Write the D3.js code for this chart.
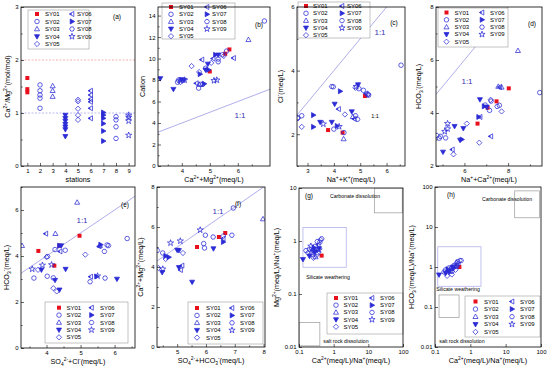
<!DOCTYPE html>
<html>
<head>
<meta charset="utf-8">
<style>
    body { margin: 0; background: #fff; }
    svg { display: block; font-family: 'Liberation Sans', Arial, sans-serif; }
</style>
</head>
<body>
<svg width="550" height="371"></svg>
<script src="https://d3js.org/d3.v7.min.js"></script>
<script>
// ---- data ----
const stations = ["SY01", "SY02", "SY03", "SY04", "SY05", "SY06", "SY07", "SY08", "SY09"];

// (a) Ca/Mg ratio per station, x = station number
const ratioA = [
    [1.66, 1.45, 1.39],
    [1.53, 1.42, 1.34, 1.28, 1.09],
    [1.51, 1.42, 1.31],
    [0.96, 0.9, 0.85, 0.79, 0.74, 0.69, 0.56],
    [1.25, 1.22, 1.08, 0.96, 0.87],
    [1.42, 1.34, 1.26, 1.21, 1.09, 0.9],
    [1.01, 0.96, 0.9, 0.8, 0.66, 0.47],
    [0.93, 0.87, 0.74, 0.52],
    [0.96, 0.92, 0.85, 0.58]
];

// [station, x, y]
const dataB = [
    [1,5.0,8.8],[1,5.55,10.45],[1,5.7,10.85],
    [2,4.6,7.25],[2,4.68,7.6],[2,5.3,9.95],[2,5.45,10.35],[2,6.95,13.5],[2,4.85,9.1],[2,3.85,7.8],
    [3,6.38,11.75],[3,4.62,7.6],
    [4,3.23,8.15],[4,3.7,7.15],[4,3.98,8.05],[4,4.08,8.0],[4,4.85,8.95],[4,4.93,9.5],[4,5.3,10.35],
    [5,4.35,9.3],[5,3.95,7.8],[5,5.5,10.25],[5,5.05,9.6],[5,4.62,8.75],
    [6,5.85,10.05],[6,4.52,7.7],[6,4.72,9.9],[6,5.12,10.0],
    [7,4.65,8.55],[7,4.8,7.65],[7,5.2,10.35],[7,4.95,8.95],
    [8,3.88,8.0],[8,4.75,7.6],[8,5.3,9.7],[8,5.6,10.7],
    [9,4.1,8.0],[9,5.15,7.95],[9,5.25,8.0],[9,3.95,7.95]
];
const dataC = [
    [1,3.78,2.13],[1,4.33,2.05],[1,5.18,3.2],
    [2,6.55,4.17],[2,4.95,3.43],[2,5.12,3.38],[2,2.78,2.58],[2,2.62,2.52],[2,4.0,2.16],[2,4.38,2.05],[2,5.32,3.23],
    [3,4.37,1.85],[3,4.72,2.55],
    [4,4.03,2.95],[4,4.92,3.56],[4,3.48,2.38],[4,3.92,2.38],[4,4.68,2.71],
    [5,4.42,2.62],[5,4.82,3.46],[5,2.78,2.23],[5,2.64,2.5],[5,5.3,3.26],
    [6,4.18,2.79],[6,4.78,2.48],[6,5.22,3.28],
    [7,3.22,2.6],[7,3.22,2.23],[7,4.24,3.35],[7,4.12,2.26],
    [8,3.92,3.5],[8,3.98,3.49],[8,4.82,2.58],[8,4.9,2.47],[8,5.28,3.24],
    [9,3.6,2.32],[9,4.2,2.24],[9,4.85,3.5]
];
const dataD = [
    [1,8.03,4.93],[1,7.47,4.44],[1,7.06,4.2],[1,6.6,3.6],
    [2,9.45,4.77],[2,7.6,4.29],[2,7.15,4.1],[2,6.95,4.3],[2,4.85,3.05],
    [3,8.45,6.35],[3,7.55,5.0],[3,7.7,4.97],
    [4,6.71,4.51],[4,5.55,3.5],[4,5.95,3.42],[4,5.02,2.53],[4,5.8,2.98],[4,7.02,4.23],
    [5,6.68,2.88],[5,6.11,3.6],[5,5.5,2.44],[5,7.7,4.06],[5,4.75,3.15],[5,7.2,4.5],
    [6,7.21,3.12],[6,5.45,2.62],[6,7.62,4.98],[6,6.72,3.85],
    [7,5.88,3.0],[7,6.9,4.25],[7,6.65,3.85],
    [8,4.9,3.12],[8,5.14,3.06],[8,7.22,4.45],[8,7.5,4.25],
    [9,5.23,3.6],[9,5.23,3.4],[9,5.1,3.3]
];
const dataE = [
    [1,4.97,4.88],[1,3.76,4.22],[1,4.23,3.58],[1,4.38,4.45],
    [2,6.37,4.76],[2,3.63,3.04],[2,4.02,3.12],[2,4.2,3.05],[2,5.78,4.48],[2,4.55,4.25],[2,4.25,4.28],
    [3,4.9,6.33],[3,3.28,4.45],[3,4.26,4.97],[3,5.57,4.45],
    [4,4.43,4.45],[4,4.56,3.43],[4,6.07,3.0],[4,4.38,2.53],[4,3.85,3.4],[4,4.25,2.95],
    [5,4.3,2.46],[5,5.14,4.06],[5,4.0,3.95],[5,3.75,3.4],[5,4.2,2.6],
    [6,3.98,4.97],[6,5.55,4.42],[6,4.4,4.2],[6,5.3,3.1],
    [7,5.59,4.49],[7,5.47,3.11],[7,4.38,4.45],
    [8,5.82,4.45],[8,5.7,4.2],[8,4.03,3.98],[8,5.72,3.04],[8,5.28,2.88],
    [9,3.58,3.43],[9,5.5,3.13],[9,3.88,3.6],[9,4.15,3.62]
];
const dataF = [
    [1,5.69,5.0],[1,6.67,5.7],[1,6.45,5.5],
    [2,6.95,6.95],[2,5.98,5.59],[2,5.92,5.17],[2,4.5,4.7],[2,5.95,4.95],
    [3,7.98,6.4],
    [4,5.52,3.25],[4,5.06,3.98],[4,5.06,4.83],[4,6.26,4.92],[4,4.48,3.73],[4,5.0,4.85],
    [5,4.6,4.4],[5,4.35,3.95],[5,5.2,4.7],[5,6.6,5.55],
    [6,5.17,4.07],[6,6.6,5.42],[6,5.12,3.85],
    [7,6.6,5.25],[7,4.71,4.49],[7,4.6,4.55],
    [8,6.9,5.59],[8,4.31,4.83],[8,6.25,5.5],
    [9,5.8,5.85],[9,4.77,5.2],[9,5.11,5.3],[9,4.5,3.9]
];
const dataG = [
    [1,0.45,0.53],
    [2,0.2,0.7],[2,0.25,0.55],[2,0.3,0.8],[2,0.35,0.6],[2,0.4,0.95],
    [3,0.22,0.6],[3,0.3,0.5],
    [4,0.13,0.45],[4,0.2,0.52],[4,0.28,0.62],[4,0.38,0.72],
    [5,0.18,0.6],[5,0.26,0.48],[5,0.33,0.55],[5,0.42,1.05],
    [6,0.24,0.68],[6,0.36,0.85],
    [7,0.3,0.65],[7,0.27,0.75],
    [8,0.16,0.66],[8,0.34,0.98],[8,0.45,1.1],
    [9,0.22,0.8],[9,0.38,0.68]
];
const dataH = [
    [1,0.49,1.0],
    [2,0.2,0.85],[2,0.25,0.95],[2,0.3,0.78],[2,0.35,1.1],[2,0.45,1.2],
    [3,0.28,0.9],[3,0.4,1.3],
    [4,0.13,0.64],[4,0.2,0.7],[4,0.25,0.75],[4,0.32,1.0],
    [5,0.22,0.6],[5,0.3,0.65],[5,0.38,0.85],[5,0.5,1.45],
    [6,0.27,0.8],[6,0.42,1.1],
    [7,0.23,0.88],[7,0.35,0.95],
    [8,0.18,0.75],[8,0.44,1.35],[8,0.55,1.45],
    [9,0.3,0.95],[9,0.4,1.05]
];
// region boxes [x0, x1, y0, y1]
const boxesG = [[15, 95, 3.4, 10], [0.13, 2.3, 0.32, 1.8], [0.1, 0.4, 0.0105, 0.029]];
const boxesH = [[18, 90, 17, 80], [0.12, 2.0, 0.33, 3.2], [0.13, 0.48, 0.055, 0.2]];
const boxNames = ["Carbonate dissolution", "Silicate weathering", "salt rock dissolution"];

// ---- drawing ----
const BLUE = "#2b2bd6", RED = "#e8101c", LINE = "#9a9ae6";
const FONT = 6;
let svg = d3.select("svg");
svg.append("rect").attr("width", 550).attr("height", 371).attr("fill", "#fff");

function marker(g, k, x, y) {
    let s = 2.4;
    if (k == 1) {
        g.append("rect").attr("x", x - 2).attr("y", y - 2).attr("width", 4).attr("height", 4).attr("fill", RED);
        return;
    }
    let p, fill = "none";
    if (k == 2) p = d3.symbol(d3.symbolCircle, 16)();
    if (k == 3) p = `M0,${-s*1.1}L${s*1.05},${s*0.75}L${-s*1.05},${s*0.75}Z`;
    if (k == 4) { p = `M0,${s*1.1}L${s*1.05},${-s*0.75}L${-s*1.05},${-s*0.75}Z`; fill = BLUE; }
    if (k == 5) p = `M0,${-s*1.1}L${s*1.1},0L0,${s*1.1}L${-s*1.1},0Z`;
    if (k == 6) p = `M${-s*1.1},0L${s*0.75},${-s*1.05}L${s*0.75},${s*1.05}Z`;
    if (k == 7) { p = `M${s*1.1},0L${-s*0.75},${-s*1.05}L${-s*0.75},${s*1.05}Z`; fill = BLUE; }
    if (k == 8) p = d3.range(6).map(i => (i ? "L" : "M") + (s * Math.cos(i * Math.PI / 3)).toFixed(2) + "," + (s * Math.sin(i * Math.PI / 3)).toFixed(2)).join("") + "Z";
    if (k == 9) p = d3.symbol(d3.symbolStar, 12)();
    let m = g.append("g").attr("transform", `translate(${x},${y})`);
    if (k == 6) {
        // half filled left triangle
        m.append("path").attr("d", `M${-s*1.1},0L${-s*0.17},${-s*0.52}L${-s*0.17},${s*0.52}Z`).attr("fill", BLUE);
    }
    m.append("path").attr("d", p).attr("fill", fill).attr("stroke", BLUE).attr("stroke-width", 0.75);
}

function rich(sel, s, fs) {
    let parts = s.split(/(\^\{[^}]*\}|_\{[^}]*\})/);
    let cur = 0;
    parts.forEach(p => {
        if (!p) return;
        let t = p, off = 0, size = fs;
        if (p.startsWith("^{")) { t = p.slice(2, -1); off = -0.38 * fs; size = fs * 0.68; }
        else if (p.startsWith("_{")) { t = p.slice(2, -1); off = 0.22 * fs; size = fs * 0.68; }
        sel.append("tspan").attr("dy", off - cur).attr("font-size", size).text(t);
        cur = off;
    });
}

function panel(c) {
    let g = svg.append("g");
    let x = (c.xlog ? d3.scaleLog() : d3.scaleLinear()).domain(c.xd).range([c.l, c.r]);
    let y = (c.ylog ? d3.scaleLog() : d3.scaleLinear()).domain(c.yd).range([c.b, c.t]);
    let id = "clip" + c.tag;
    svg.append("clipPath").attr("id", id).append("rect")
        .attr("x", c.l).attr("y", c.t).attr("width", c.r - c.l).attr("height", c.b - c.t);
    let inner = g.append("g").attr("clip-path", `url(#${id})`);
    let fmt = d => d3.format("~g")(d);

    let ax = g.append("g").attr("transform", `translate(0,${c.b})`)
        .call(d3.axisBottom(x).tickValues(c.xt).tickSize(-3).tickPadding(2.5).tickFormat(fmt));
    let ay = g.append("g").attr("transform", `translate(${c.l},0)`)
        .call(d3.axisLeft(y).tickValues(c.yt).tickSize(-3).tickPadding(2.5).tickFormat(fmt));
    if (c.xm) g.append("g").attr("transform", `translate(0,${c.b})`)
        .call(d3.axisBottom(x).tickValues(c.xm).tickSize(-1.6).tickFormat(""));
    if (c.ym) g.append("g").attr("transform", `translate(${c.l},0)`)
        .call(d3.axisLeft(y).tickValues(c.ym).tickSize(-1.6).tickFormat(""));
    g.selectAll(".domain").remove();
    g.selectAll(".tick line").attr("stroke", "#000").attr("stroke-width", 0.6);
    g.selectAll(".tick text").attr("font-size", FONT).attr("font-family", "'Liberation Sans', Arial, sans-serif").attr("fill", "#000");

    // x label
    let tx = g.append("text").attr("x", (c.l + c.r) / 2).attr("y", c.b + 16).attr("text-anchor", "middle").attr("font-size", 7.2);
    rich(tx, c.xl, 7.2);
    let ty = g.append("text").attr("text-anchor", "middle").attr("font-size", 7.2)
        .attr("transform", `translate(${c.yx},${(c.t + c.b) / 2}) rotate(-90)`);
    rich(ty, c.yl, 7.2);

    return { g, inner, x, y };
}

function points(p, data) {
    data.forEach(d => marker(p.inner, d[0], p.x(d[1]), p.y(d[2])));
}

function oneToOne(p, lab) {
    let [a, b] = p.x.domain();
    p.inner.append("line").attr("x1", p.x(a)).attr("y1", p.y(a)).attr("x2", p.x(b)).attr("y2", p.y(b))
        .attr("stroke", LINE).attr("stroke-width", 0.8);
    if (lab) p.g.append("text").attr("x", lab[0]).attr("y", lab[1]).attr("font-size", 8)
        .attr("fill", "#3535b0").attr("text-anchor", "middle").text("1:1");
}

function legend(p, L) {
    let g = p.g.append("g");
    g.append("rect").attr("x", L.x).attr("y", L.y).attr("width", L.w).attr("height", L.h)
        .attr("fill", "#fff").attr("stroke", "#888").attr("stroke-width", 0.5);
    stations.forEach((s, i) => {
        let col = i < 5 ? 0 : 1, row = i < 5 ? i : i - 5;
        let yy = L.y + L.r0 + row * L.dr;
        marker(g, i + 1, L.x + (col ? L.m2 : L.m1), yy);
        g.append("text").attr("x", L.x + (col ? L.t2 : L.t1)).attr("y", yy + 2).attr("font-size", FONT).text(s);
    });
}

function frame(p, c, tag, tp) {
    p.g.append("rect").attr("x", c.l).attr("y", c.t).attr("width", c.r - c.l).attr("height", c.b - c.t)
        .attr("fill", "none").attr("stroke", "#000").attr("stroke-width", 0.8);
    p.g.append("text").attr("x", tp[0]).attr("y", tp[1]).attr("font-size", 6.5).attr("text-anchor", "middle").text(tag);
}

function regionBoxes(p, boxes, labs) {
    boxes.forEach((b, i) => {
        p.inner.append("rect").attr("x", p.x(b[0])).attr("y", p.y(b[3]))
            .attr("width", p.x(b[1]) - p.x(b[0])).attr("height", p.y(b[2]) - p.y(b[3]))
            .attr("fill", "none").attr("stroke", i == 1 ? "#a8a8e8" : "#999").attr("stroke-width", 0.7);
        p.g.append("text").attr("x", labs[i][0]).attr("y", labs[i][1]).attr("font-size", 5.2)
            .attr("text-anchor", "middle").text(boxNames[i]);
    });
}

// (a)
let cA = { tag: "a", l: 21, r: 135, t: 7, b: 166, xd: [0.5, 9.5], yd: [0, 3],
    xt: d3.range(1, 10), yt: [0, 1, 2, 3], ym: [0.5, 1.5, 2.5],
    xl: "stations", yl: "Ca^{2+}/Mg^{2+}(mol/mol)", yx: 10 };
let pA = panel(cA);
[[2, "#f2a0a0"], [1, "#a8a8f0"]].forEach(([v, col]) => {
    pA.inner.append("line").attr("x1", cA.l).attr("x2", cA.r).attr("y1", pA.y(v)).attr("y2", pA.y(v))
        .attr("stroke", col).attr("stroke-width", 0.8).attr("stroke-dasharray", "2,1.5");
});
ratioA.forEach((vals, i) => vals.forEach(v => marker(pA.inner, i + 1, pA.x(i + 1), pA.y(v))));
legend(pA, { x: 28, y: 10, w: 61, h: 39, m1: 9, t1: 17, m2: 44, t2: 49, r0: 4, dr: 7.5 });
frame(pA, cA, "(a)", [117, 19]);

// (b)
let cB = { tag: "b", l: 158, r: 270, t: 7, b: 166, xd: [3.15, 7.15], yd: [0, 14.8],
    xt: [4, 5, 6], yt: d3.range(0, 15, 2), xm: [3.5, 4.5, 5.5, 6.5], ym: d3.range(1, 15, 2),
    xl: "Ca^{2+}+Mg^{2+}(meq/L)", yl: "Cation", yx: 145 };
let pB = panel(cB);
oneToOne(pB, [240, 118]);
points(pB, dataB);
legend(pB, { x: 162, y: 3, w: 73, h: 36, m1: 9, t1: 17, m2: 45, t2: 50, r0: 4, dr: 7.3 });
frame(pB, cB, "(b)", [259, 27]);

// (c)
let cC = { tag: "c", l: 297, r: 405, t: 7, b: 166, xd: [2.6, 6.7], yd: [1, 6],
    xt: [3, 4, 5, 6], yt: [2, 4, 6], xm: [3.5, 4.5, 5.5, 6.5], ym: [1, 3, 5],
    xl: "Na^{+}+K^{+}(meq/L)", yl: "Cl^{-}(meq/L)", yx: 283 };
let pC = panel(cC);
oneToOne(pC, [380, 35]);
pC.g.append("text").attr("x", 375).attr("y", 118).attr("font-size", 5.5).attr("text-anchor", "middle").text("1:1");
points(pC, dataC);
legend(pC, { x: 298, y: 2, w: 72, h: 36, m1: 8, t1: 15, m2: 44, t2: 49, r0: 4, dr: 7.3 });
frame(pC, cC, "(c)", [394, 25]);

// (d)
let cD = { tag: "d", l: 436, r: 542, t: 7, b: 166, xd: [4.7, 9.55], yd: [2, 8],
    xt: [6, 8], yt: [2, 4, 6, 8], xm: [5, 7, 9], ym: [3, 5, 7],
    xl: "Na^{+}+Ca^{2+}(meq/L)", yl: "HCO_{3}^{-}(meq/L)", yx: 421 };
let pD = panel(cD);
oneToOne(pD, [467, 84]);
points(pD, dataD);
legend(pD, { x: 438, y: 8, w: 70, h: 39, m1: 8.5, t1: 16.5, m2: 44, t2: 52, r0: 4.5, dr: 7.3 });
frame(pD, cD, "(d)", [532, 26]);

// (e)
let cE = { tag: "e", l: 21, r: 135, t: 187, b: 348, xd: [3.25, 6.6], yd: [0, 7],
    xt: [4, 5, 6], yt: [0, 2, 4, 6], xm: [3.5, 4.5, 5.5, 6.5], ym: [1, 3, 5, 7],
    xl: "SO_{4}^{2-}+Cl^{-}(meq/L)", yl: "HCO_{3}^{-}(meq/L)", yx: 9 };
let pE = panel(cE);
oneToOne(pE, [82, 223]);
points(pE, dataE);
legend(pE, { x: 45, y: 302, w: 83, h: 41, m1: 14, t1: 21.5, m2: 46.5, t2: 55, r0: 5.7, dr: 7.4 });
frame(pE, cE, "(e)", [125, 207]);

// (f)
let cF = { tag: "f", l: 157, r: 265, t: 187, b: 347, xd: [4.3, 8.05], yd: [0, 8],
    xt: [5, 6, 7, 8], yt: [0, 2, 4, 6, 8], xm: [4.5, 5.5, 6.5, 7.5], ym: [1, 3, 5, 7],
    xl: "SO_{4}^{2-}+HCO_{3}^{-}(meq/L)", yl: "Ca^{2+}+Mg^{2+}(meq/L)", yx: 143 };
let pF = panel(cF);
oneToOne(pF, [218, 214]);
points(pF, dataF);
legend(pF, { x: 188, y: 302, w: 75, h: 42, m1: 9, t1: 18, m2: 44, t2: 52, r0: 6, dr: 7.4 });
frame(pF, cF, "(f)", [238, 206]);

// (g)
const logTicks = [0.01, 0.1, 1, 10, 100];
let cG = { tag: "g", l: 299, r: 403, t: 188, b: 347, xd: [0.1, 100], yd: [0.01, 10], xlog: true, ylog: true,
    xt: [0.1, 1, 10, 100], yt: [0.01, 0.1, 1, 10],
    xl: "Ca^{2+}(meq/L)/Na^{+}(meq/L)", yl: "Mg^{2+}(meq/L)/Na^{+}(meq/L)", yx: 279 };
let pG = panel(cG);
regionBoxes(pG, boxesG, [[355, 198], [328, 279], [346, 343]]);
points(pG, dataG);
legend(pG, { x: 327, y: 293, w: 76, h: 41, m1: 9, t1: 16.5, m2: 45, t2: 53, r0: 5, dr: 7.2 });
frame(pG, cG, "(g)", [309, 198]);

// (h)
let cH = { tag: "h", l: 435, r: 541, t: 187, b: 347, xd: [0.1, 100], yd: [0.01, 100], xlog: true, ylog: true,
    xt: [0.1, 1, 10, 100], yt: [0.01, 0.1, 1, 10, 100],
    xl: "Ca^{2+}(meq/L)/Na^{+}(meq/L)", yl: "HCO_{3}^{-}(meq/L)/Na^{+}(meq/L)", yx: 414 };
let pH = panel(cH);
regionBoxes(pH, boxesH, [[507, 201], [458, 291], [462, 343]]);
points(pH, dataH);
legend(pH, { x: 465, y: 296, w: 75, h: 41, m1: 10.5, t1: 19, m2: 47, t2: 55, r0: 5.5, dr: 7.6 });
frame(pH, cH, "(h)", [451, 197]);
</script>
</body>
</html>
